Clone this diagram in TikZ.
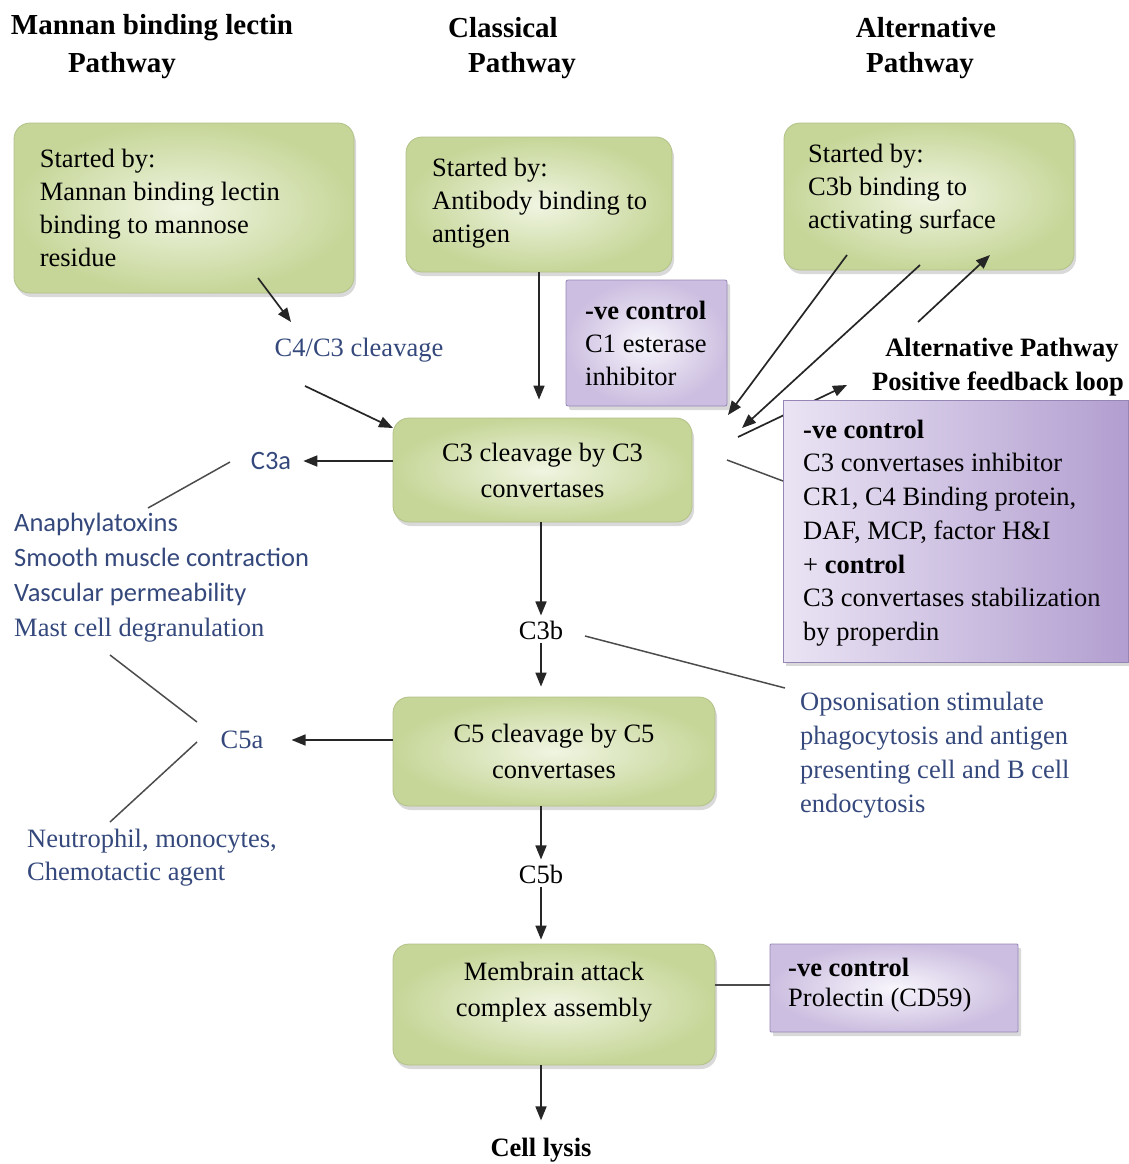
\documentclass[tikz,border=0pt]{standalone}
\usepackage{fontspec}
\setmainfont{Liberation Serif}
\newfontfamily\tms{Liberation Serif}
\newfontfamily\carl{Carlito}
\usetikzlibrary{shadows,arrows.meta,calc}
\definecolor{gIn}{RGB}{240,245,226}
\definecolor{gOut}{RGB}{198,214,152}
\definecolor{gEdge}{RGB}{178,194,136}
\definecolor{pIn}{RGB}{248,246,252}
\definecolor{pOut}{RGB}{204,190,224}
\definecolor{pEdge}{RGB}{150,134,182}
\definecolor{pLeft}{RGB}{234,228,244}
\definecolor{pRight}{RGB}{178,158,208}
\definecolor{bluT}{RGB}{52,72,124}
\begin{document}
\begin{tikzpicture}[x=1pt,y=-1pt,
  txt/.style={font=\tms\fontsize{26.5}{33}\selectfont, inner sep=0pt, align=left},
  ctxt/.style={font=\tms\fontsize{26.5}{36}\selectfont, align=center},
  gbox/.style={draw=gEdge, line width=0.8pt, rounded corners=16pt, inner color=gIn, outer color=gOut,
    drop shadow={opacity=0.3, shadow xshift=2pt, shadow yshift=-4pt}},
  pbox/.style={draw=pEdge, line width=0.8pt, rounded corners=2pt, inner color=pIn, outer color=pOut,
    drop shadow={opacity=0.3, shadow xshift=3pt, shadow yshift=-4pt}},
  bl/.style={text=bluT, font=\tms\fontsize{26.5}{34}\selectfont, inner sep=0pt},
  arr/.style={draw=black!85, line width=1.7pt, -{Triangle[length=14pt,width=11pt]}},
  ln/.style={draw=black!70, line width=1.5pt},
  head/.style={font=\tms\bfseries\fontsize{29}{38}\selectfont},
  headb/.style={font=\tms\bfseries\fontsize{26.5}{34}\selectfont}
]
\useasboundingbox (0,0) rectangle (1128,1164);

% headings
\node[head] (h1a) at (152,28) {Mannan binding lectin};
\node[head] (h1b) at (122,66) {Pathway};
\node[head] (h2a) at (503,28) {Classical};
\node[head] (h2b) at (522,66) {Pathway};
\node[head] (h3a) at (926,28) {Alternative};
\node[head] (h3b) at (920,66) {Pathway};

% start boxes
\node[gbox, minimum width=340pt, minimum height=170pt] (mbl) at (184,208) {};
\node[txt, anchor=west] (mblt) at ([xshift=26pt]mbl.west) {Started by:\\Mannan binding lectin\\binding to mannose\\residue};

\node[gbox, minimum width=266pt, minimum height=135pt] (cl) at (539,204.5) {};
\node[txt, anchor=west] (clt) at (432,203) {Started by:\\Antibody binding to\\antigen};

\node[gbox, minimum width=290pt, minimum height=147pt] (alt) at (929,196.5) {};
\node[txt, anchor=west] (altt) at (808,189.5) {Started by:\\C3b binding to\\activating surface};

% C1 inhibitor
\node[pbox, minimum width=161pt, minimum height=126pt] (c1) at (646.5,343) {};
\node[txt, anchor=west] (c1t) at (585,343) {\textbf{-ve control}\\C1 esterase\\inhibitor};

% feedback loop label
\node[headb] (apl1) at (1002,350) {Alternative Pathway};
\node[headb] (apl2) at (998,384) {Positive feedback loop};

% feedback arrow (partly hidden by the box below)
\coordinate (a4s) at (738,437);
\coordinate (a4e) at (847,385);
\draw[draw=black!85, line width=1.7pt, -{Triangle[length=14pt,width=11pt]}] (a4s) -- (a4e);

% big purple box
\node[draw=pEdge, line width=0.8pt, left color=pLeft, right color=pRight,
  drop shadow={opacity=0.3, shadow xshift=3pt, shadow yshift=-4pt},
  minimum width=345pt, minimum height=262pt] (big) at (955.5,531) {};
\node[font=\tms\fontsize{26.5}{33.7}\selectfont, inner sep=0pt, align=left, anchor=west] (bigt) at (803,533)
  {\textbf{-ve control}\\C3 convertases inhibitor\\CR1, C4 Binding protein,\\DAF, MCP, factor H\&I\\+ \textbf{control}\\C3 convertases stabilization\\by properdin};

% C3 cleavage
\node[bl] (c43) at (359,350) {C4/C3 cleavage};
\node[gbox, ctxt, minimum width=299pt, minimum height=104pt] (c3) at (542.5,470) {C3 cleavage by C3\\convertases};
\node[bl, font=\carl\fontsize{26.5}{34}\selectfont] (c3a) at (271,461) {C3a};
\node[bl, anchor=west, align=left, font=\tms\fontsize{26.5}{35}\selectfont] (ana) at (14,577.5)
  {{\carl Anaphylatoxins}\\{\carl Smooth muscle contraction}\\{\carl Vascular permeability}\\Mast cell degranulation};

\node[bl, text=black, inner sep=3pt] (c3b) at (541,630) {C3b};
\node[bl, anchor=west, align=left] (ops) at (800,755.5)
  {Opsonisation stimulate\\phagocytosis and antigen\\presenting cell and B cell\\endocytosis};

% C5 cleavage
\node[gbox, ctxt, minimum width=322pt, minimum height=109pt] (c5) at (554,751.5) {C5 cleavage by C5\\convertases};
\node[bl] (c5a) at (242,740) {C5a};
\node[bl, anchor=west, align=left, font=\tms\fontsize{26.5}{33}\selectfont] (neu) at (27,857.5)
  {Neutrophil, monocytes,\\Chemotactic agent};
\node[bl, text=black, inner sep=3pt] (c5b) at (541,874) {C5b};

% MAC
\node[gbox, minimum width=322pt, minimum height=121pt] (mac) at (554,1004.5) {};
\node[ctxt, inner sep=0pt] (mact) at (554,992.5) {Membrain attack\\complex assembly};
\node[pbox, minimum width=248pt, minimum height=88pt, rounded corners=1pt] (pro) at (894,988) {};
\node[txt, anchor=west, font=\tms\fontsize{26.5}{30}\selectfont] (prot) at (788,985) {\textbf{-ve control}\\Prolectin (CD59)};
\node[headb] (lys) at (541,1150) {Cell lysis};

% coordinates for free connector ends
\coordinate (m1s) at (258,278);
\coordinate (m1e) at (291,322);
\coordinate (m2s) at (305,386);
\coordinate (m2e) at (393,428);
\coordinate (a1s) at (847,255);
\coordinate (a1e) at (728,415);
\coordinate (a2s) at (920,265);
\coordinate (a2e) at (742,428);
\coordinate (a3s) at (918,322);
\coordinate (a3e) at (990,255);
\coordinate (b1s) at (727,460);
\coordinate (b1e) at (783,481);
\coordinate (l1s) at (230,462);
\coordinate (l1e) at (148,508);
\coordinate (l2s) at (197,722);
\coordinate (l2e) at (110,655);
\coordinate (l3s) at (197,742);
\coordinate (l3e) at (110,822);
\coordinate (o1s) at (585,636);
\coordinate (o1e) at (785,688);

% connectors
\draw[arr] (m1s) -- (m1e);
\draw[arr] (m2s) -- (m2e);
\draw[arr, shorten >=18pt] (cl.south) -- (cl.south |- c3.north);
\draw[arr] (c3.west |- c3a) -- ([xshift=12pt]c3a.east);
\draw[ln] (l1s) -- (l1e);
\draw[arr, shorten >=2pt] (c3b.north |- c3.south) -- (c3b.north);
\draw[arr, shorten >=10pt] (c3b.south) -- (c3b.south |- c5.north);
\draw[ln] (o1s) -- (o1e);
\draw[arr] (c5.west |- c5a) -- ([xshift=28pt]c5a.east);
\draw[ln] (l2s) -- (l2e);
\draw[ln] (l3s) -- (l3e);
\draw[arr, shorten >=2pt] (c5b.north |- c5.south) -- (c5b.north);
\draw[arr, shorten >=4pt] (c5b.south) -- (c5b.south |- mac.north);
\draw[ln] (mac.east |- prot) -- (pro.west |- prot);
\draw[arr, shorten >=14pt] (lys.north |- mac.south) -- (lys.north);
\draw[arr] (a1s) -- (a1e);
\draw[arr] (a2s) -- (a2e);
\draw[arr] (a3s) -- (a3e);
\draw[ln] (b1s) -- (b1e);
\end{tikzpicture}
\end{document}
